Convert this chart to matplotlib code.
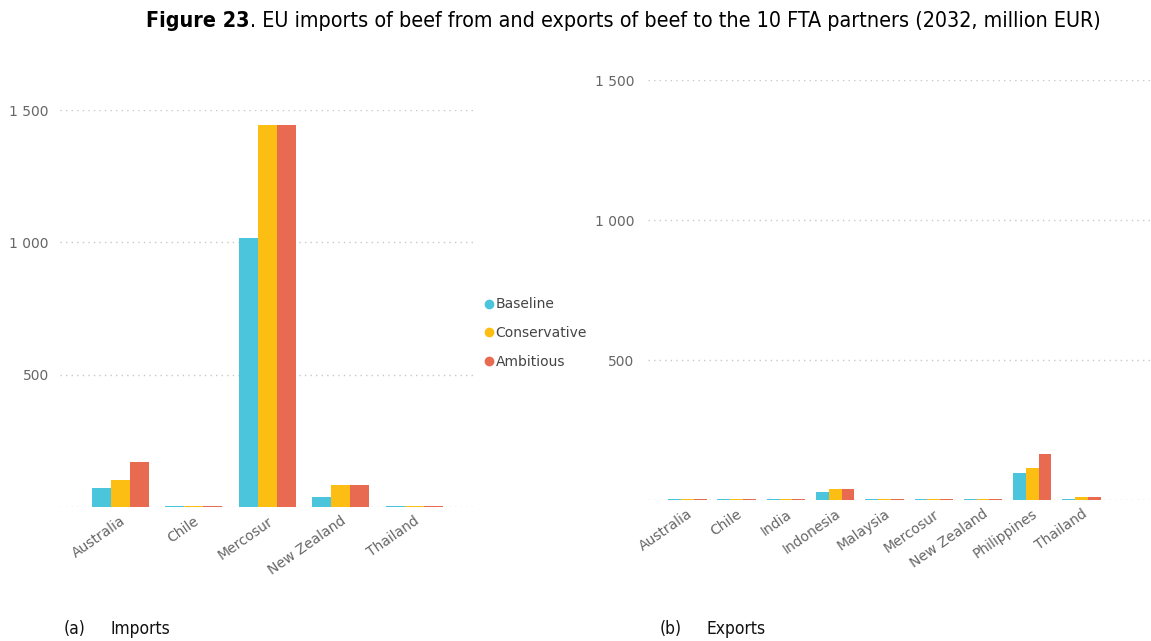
import matplotlib
matplotlib.use("Agg")
import matplotlib.pyplot as plt
import numpy as np
from matplotlib.ticker import FuncFormatter
from matplotlib.lines import Line2D

# ---- data ----
series_names = ["Baseline", "Conservative", "Ambitious"]
series_colors = ["#4AC5DB", "#FDBE14", "#E86A50"]

imp_categories = ["Australia", "Chile", "Mercosur", "New Zealand", "Thailand"]
imp_baseline = [70, 3, 1015, 39, 3]
imp_conservative = [102, 3, 1445, 84, 3]
imp_ambitious = [169, 3, 1445, 84, 3]

exp_categories = ["Australia", "Chile", "India", "Indonesia", "Malaysia",
                  "Mercosur", "New Zealand", "Philippines", "Thailand"]
exp_baseline = [2, 2, 2, 27, 2, 2, 2, 96, 2]
exp_conservative = [2, 2, 2, 39, 2, 2, 2, 115, 11]
exp_ambitious = [2, 2, 2, 39, 2, 2, 2, 166, 11]

y_ticks = [0, 500, 1000, 1500]

W, H = 1151, 641
fig = plt.figure(figsize=(W / 100, H / 100), dpi=100)

def fx(px):
    return px / W

def fy(py):
    return 1 - py / H

tick_color = "#666666"

def draw(ax, cats, vals, xlim, pad):
    x = np.arange(len(cats))
    bw = 0.26
    for i, (v, c) in enumerate(zip(vals, series_colors)):
        ax.bar(x + (i - 1) * bw, v, width=bw, color=c, edgecolor="none", zorder=3)
    ax.set_xlim(*xlim)
    ax.set_ylim(0, 1500)
    ax.set_yticks(y_ticks)
    ax.yaxis.set_major_formatter(FuncFormatter(
        lambda v, p: "" if v == 0 else f"{int(v):,}".replace(",", " ")))
    ax.grid(axis="y", color="#c8c8c8", linestyle=(0, (1, 3)), linewidth=1.0, zorder=0)
    for s in ax.spines.values():
        s.set_visible(False)
    ax.tick_params(axis="both", length=0, colors=tick_color, labelsize=10)
    ax.tick_params(axis="y", pad=pad)
    ax.set_xticks(x)
    ax.set_xticklabels(cats, rotation=35, ha="right", rotation_mode="anchor",
                       color=tick_color, fontsize=10)
    ax.tick_params(axis="x", pad=5)
    ax.set_axisbelow(True)

ax1 = fig.add_axes([fx(60), fy(507), fx(473 - 60), fy(110) - fy(507)])
draw(ax1, imp_categories, [imp_baseline, imp_conservative, imp_ambitious], (-0.82, 4.8), 8)

ax2 = fig.add_axes([fx(648), fy(500), fx(1151 - 648), fy(80) - fy(500)])
draw(ax2, exp_categories, [exp_baseline, exp_conservative, exp_ambitious], (-0.8, 9.41), 10)

# legend
handles = [Line2D([0], [0], marker="o", linestyle="none", markersize=6,
                  markerfacecolor=c, markeredgecolor=c) for c in series_colors]
fig.legend(handles, series_names, loc="center left",
           bbox_to_anchor=(fx(476), fy(333)), frameon=False, fontsize=10,
           handletextpad=0.0, labelspacing=1.05, labelcolor="#444444",
           handlelength=1.0, borderaxespad=0)

# title: bold part + normal part
fam = ["DejaVu Sans"]
renderer = fig.canvas.get_renderer()
t1 = fig.text(fx(146), fy(21), "Figure 23", fontsize=15.4, fontweight="bold",
              va="center", ha="left", family=fam,
              fontstretch="condensed", color="#000000")
bb = t1.get_window_extent(renderer=renderer)
fig.text(bb.x1 / W, fy(21),
         ". EU imports of beef from and exports of beef to the 10 FTA partners (2032, million EUR)",
         fontsize=15.4, va="center", ha="left", family=fam, fontstretch="condensed",
         color="#000000")

# captions
cap = dict(fontsize=12.5, va="center", ha="left", color="#111111",
           family=fam, fontstretch="condensed")
fig.text(fx(64), fy(629), "(a)", **cap)
fig.text(fx(110), fy(629), "Imports", **cap)
fig.text(fx(660), fy(629), "(b)", **cap)
fig.text(fx(706), fy(629), "Exports", **cap)

fig.savefig("out.png", dpi=100, facecolor="white")
